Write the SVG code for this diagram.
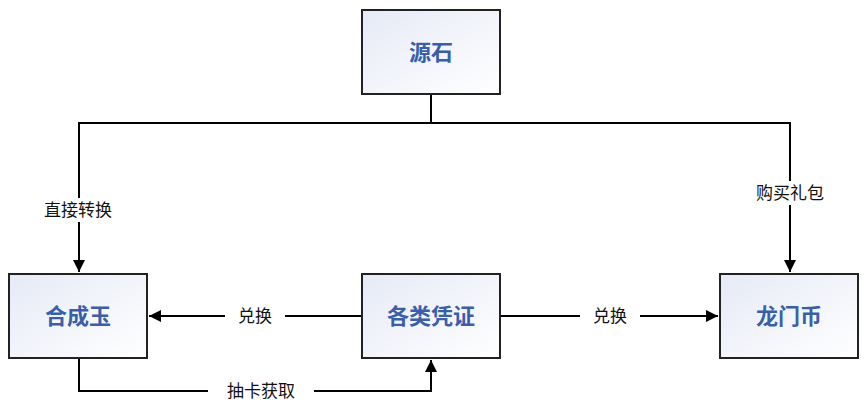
<svg xmlns="http://www.w3.org/2000/svg" width="866" height="409" viewBox="0 0 866 409">
<defs>
<linearGradient id="g" x1="0" y1="0" x2="1" y2="1"><stop offset="0" stop-color="#e6eaf6"/><stop offset="1" stop-color="#ffffff"/></linearGradient>
<marker id="a" viewBox="0 0 10 10" refX="10" refY="5" markerWidth="12" markerHeight="12" markerUnits="userSpaceOnUse" orient="auto"><path d="M0,0 L10,5 L0,10 z" fill="#000"/></marker>
</defs>
<style>
.b{fill:url(#g);stroke:#222;stroke-width:2}
.t{font-family:"Noto Sans CJK SC",sans-serif;font-weight:bold;font-size:22px;fill:#3a5fa8;text-anchor:middle}
.l{fill:none;stroke:#000;stroke-width:2}
.lb{font-family:"Noto Sans CJK SC",sans-serif;font-size:17px;fill:#111;text-anchor:middle}
.bg{fill:#fff}
</style>
<rect width="866" height="409" fill="#fff"/>
<g id="conn">
<path class="l" d="M431,94 V123 H79 V272" marker-end="url(#a)"/>
<path class="l" d="M431,123 H790 V272" marker-end="url(#a)"/>
<path class="l" d="M362,316 H149" marker-end="url(#a)"/>
<path class="l" d="M500,316 H718" marker-end="url(#a)"/>
<path class="l" d="M79,358 V391 H431 V360" marker-end="url(#a)"/>
<rect class="bg" x="26" y="198" width="104" height="24"/><text class="lb" x="78" y="216">直接转换</text>
<rect class="bg" x="737" y="181" width="106" height="24"/><text class="lb" x="790" y="199">购买礼包</text>
<rect class="bg" x="225" y="304" width="60" height="24"/><text class="lb" x="255" y="322">兑换</text>
<rect class="bg" x="580" y="304" width="60" height="24"/><text class="lb" x="610" y="322">兑换</text>
<rect class="bg" x="208" y="379" width="106" height="24"/><text class="lb" x="261" y="397">抽卡获取</text>
</g>
<g id="yuanshi"><rect class="b" x="362" y="10" width="138" height="84"/><text class="t" x="431" y="60">源石</text></g>
<g id="hechengyu"><rect class="b" x="9" y="274" width="138" height="84"/><text class="t" x="78" y="324">合成玉</text></g>
<g id="pingzheng"><rect class="b" x="362" y="274" width="138" height="84"/><text class="t" x="431" y="324">各类凭证</text></g>
<g id="longmenbi"><rect class="b" x="720" y="274" width="138" height="84"/><text class="t" x="789" y="324">龙门币</text></g>
</svg>
